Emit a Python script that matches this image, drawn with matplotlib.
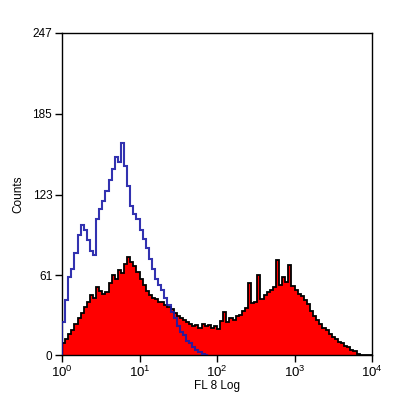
import numpy as np
import matplotlib
matplotlib.use("Agg")
import matplotlib.pyplot as plt

# =========================
# DATA (channel counts, 25 channels per decade, FL 8 log 10^0..10^4)
# =========================
decades = 4
channels_per_decade = 25

stained_counts = [
    9, 12, 16, 19, 24, 28, 32, 37, 41, 46,
    44, 52, 49, 47, 48, 55, 61, 58, 65, 63,
    70, 75, 71, 68, 64, 58, 54, 49, 46, 44,
    43, 41, 41, 38, 37, 35, 32, 30, 28, 27,
    25, 24, 22, 23, 21, 24, 22, 23, 21, 22,
    20, 26, 33, 25, 28, 27, 30, 31, 34, 36,
    55, 40, 41, 61, 43, 46, 48, 50, 52, 73,
    54, 60, 56, 69, 53, 50, 47, 45, 42, 39,
    34, 30, 27, 24, 21, 19, 16, 14, 12, 10,
    9, 7, 6, 4, 3, 1, 0, 0, 0, 0,
]

isotype_counts = [
    25, 42, 60, 66, 78, 92, 100, 96, 88, 80,
    77, 104, 112, 118, 126, 134, 143, 152, 148, 163,
    145, 130, 114, 108, 104, 96, 89, 82, 74, 66,
    58, 54, 50, 44, 38, 33, 28, 22, 18, 15,
    11, 9, 6, 4, 2, 1, 0,
]

y_ticks = [0, 61, 123, 185, 247]
x_tick_labels = [r"$10^0$", r"$10^1$", r"$10^2$", r"$10^3$", r"$10^4$"]

# =========================
# PLOT
# =========================
plt.rcParams["font.family"] = ["Liberation Sans", "DejaVu Sans"]
plt.rcParams["mathtext.fontset"] = "custom"
plt.rcParams["mathtext.rm"] = "Liberation Sans"

n_bins = decades * channels_per_decade
edges = np.logspace(0, decades, n_bins + 1)
iso_edges = edges[:len(isotype_counts) + 1]

fig = plt.figure(figsize=(4, 4), dpi=100, facecolor="white")
ax = fig.add_axes([0.155, 0.1125, 0.775, 0.805])

ax.stairs(stained_counts, edges, fill=True, color="#ff0000", zorder=2)
ax.stairs(stained_counts, edges, color="black", linewidth=1.3, zorder=3)
ax.stairs(isotype_counts, iso_edges, color="#1c1ca8", linewidth=1.5, alpha=0.9, zorder=4)

ax.set_xscale("log")
ax.set_xlim(1, 10 ** decades)
ax.set_ylim(0, 247)

ax.set_xticks(np.logspace(0, decades, decades + 1))
ax.set_xticklabels(x_tick_labels, fontsize=9.5)
ax.xaxis.set_minor_locator(matplotlib.ticker.NullLocator())
ax.set_yticks(y_ticks)
ax.set_yticklabels([str(v) for v in y_ticks], fontsize=8.5)

ax.tick_params(direction="out", length=5, width=1, color="black", pad=2)
for spine in ax.spines.values():
    spine.set_edgecolor("black")
    spine.set_linewidth(1.0)

ax.set_xlabel("FL 8 Log", fontsize=8.5, labelpad=0)
ax.set_ylabel("Counts", fontsize=8.5, labelpad=6)

plt.savefig("out.png", dpi=100, facecolor="white")
plt.close()
